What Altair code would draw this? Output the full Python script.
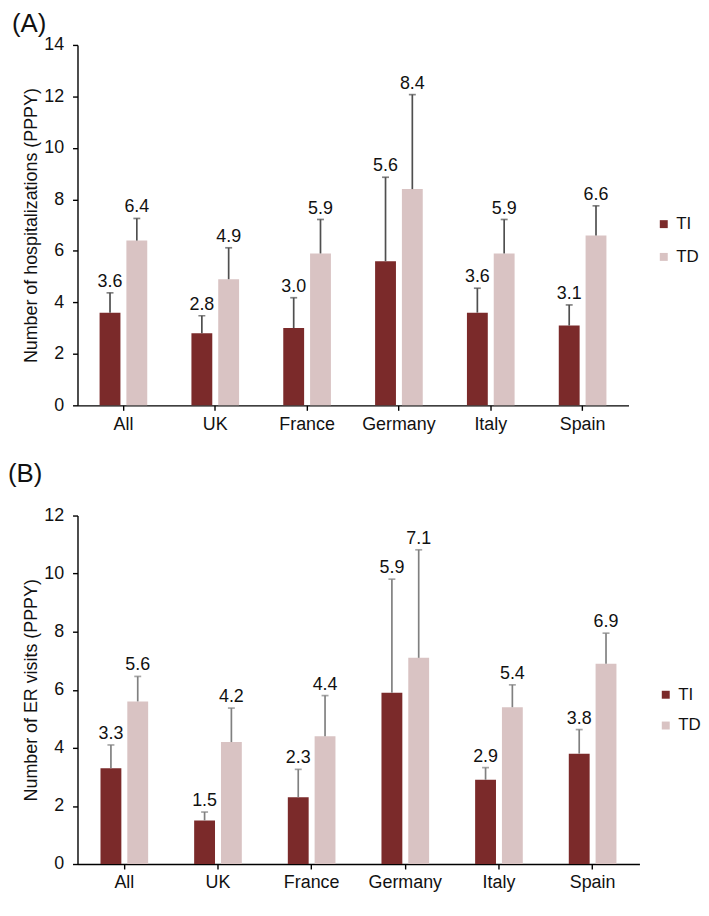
import altair as alt
import pandas as pd

categories = ["All", "UK", "France", "Germany", "Italy", "Spain"]
series = ["TI", "TD"]
colors = ["#7B2A2A", "#D9C3C3"]

# Panel A: hospitalizations (PPPY)
hosp_ti = [3.6, 2.8, 3.0, 5.6, 3.6, 3.1]
hosp_td = [6.4, 4.9, 5.9, 8.4, 5.9, 6.6]
hosp_ti_upper = [4.37, 3.48, 4.18, 8.86, 4.55, 3.90]
hosp_td_upper = [7.26, 6.12, 7.22, 12.07, 7.22, 7.75]

# Panel B: ER visits (PPPY)
er_ti = [3.3, 1.5, 2.3, 5.9, 2.9, 3.8]
er_td = [5.6, 4.2, 4.4, 7.1, 5.4, 6.9]
er_ti_upper = [4.10, 1.79, 3.26, 9.81, 3.32, 4.63]
er_td_upper = [6.46, 5.37, 5.80, 10.82, 6.17, 7.95]

FONT = "Liberation Sans"
TXT = "#111111"


def make_df(ti, td, ti_up, td_up):
    rows = []
    for i, c in enumerate(categories):
        rows.append({"cat": c, "series": "TI", "value": ti[i], "upper": ti_up[i], "label": f"{ti[i]:.1f}"})
        rows.append({"cat": c, "series": "TD", "value": td[i], "upper": td_up[i], "label": f"{td[i]:.1f}"})
    return pd.DataFrame(rows)


def panel(df, letter, ytitle, ymax, width, height, err_color, legend_x, legend_y,
          letter_x, letter_y, row_pad, xlab_pad):
    step = width / len(categories)
    p_in = 1 - 48 / step
    x = alt.X("cat:N", sort=categories,
              scale=alt.Scale(paddingInner=p_in, paddingOuter=p_in / 2),
              axis=alt.Axis(title=None, labelAngle=0, labelFont=FONT, labelFontSize=18,
                            labelColor=TXT, labelPadding=xlab_pad, tickSize=5, tickColor="#000",
                            domainColor="#000", domainWidth=1.4, tickWidth=1.4))
    xo = alt.XOffset("series:N", sort=series,
                     scale=alt.Scale(domain=series, paddingInner=0.222, paddingOuter=0))
    y = alt.Y("value:Q", scale=alt.Scale(domain=[0, ymax], nice=False),
              axis=alt.Axis(values=list(range(0, ymax + 1, 2)), title=ytitle, grid=False,
                            labelFont=FONT, labelFontSize=18, labelColor=TXT, labelPadding=9,
                            tickSize=5, tickColor="#000", tickWidth=1.4, domainColor="#000",
                            domainWidth=1.4, titleFont=FONT, titleFontSize=18,
                            titleFontWeight="normal", titleColor=TXT, titlePadding=3))
    base = alt.Chart(df)
    bars = base.mark_bar().encode(
        x=x, xOffset=xo, y=y,
        color=alt.Color("series:N", sort=series,
                        scale=alt.Scale(domain=series, range=colors),
                        legend=alt.Legend(title=None, orient="none", legendX=legend_x,
                                          legendY=legend_y, symbolType="square",
                                          symbolSize=64, symbolStrokeWidth=0,
                                          labelFont=FONT, labelFontSize=17,
                                          labelColor=TXT, rowPadding=row_pad,
                                          labelOffset=4, padding=0)),
    )
    rules = base.mark_rule(color=err_color, strokeWidth=1.7).encode(
        x=x, xOffset=xo, y="value:Q", y2="upper:Q")
    caps = base.mark_tick(orient="horizontal", color=err_color, size=7, thickness=1.7).encode(
        x=x, xOffset=xo, y="upper:Q")
    labels = base.mark_text(baseline="alphabetic", dy=-6, fontSize=18, font=FONT, color=TXT).encode(
        x=x, xOffset=xo, y="upper:Q", text="label:N")
    letter_txt = alt.Chart(pd.DataFrame({"t": [letter]})).mark_text(
        align="left", baseline="top", fontSize=26, font=FONT, color=TXT
    ).encode(x=alt.value(letter_x), y=alt.value(letter_y), text="t:N")
    return alt.layer(bars, rules, caps, labels, letter_txt).properties(width=width, height=height)


df_a = make_df(hosp_ti, hosp_td, hosp_ti_upper, hosp_td_upper)
df_b = make_df(er_ti, er_td, er_ti_upper, er_td_upper)

chart_a = panel(df_a, "(A)", "Number of hospitalizations (PPPY)", 14, 555, 363,
                "#4F4F4F", 582, 172, -66, -34, 15, 5)
chart_b = panel(df_b, "(B)", "Number of ER visits (PPPY)", 12, 566, 351,
                "#808080", 584, 172, -70, -55, 13, 5)

chart = alt.vconcat(chart_a, chart_b, spacing=111, bounds="flush").resolve_scale(
    x="independent", y="independent", xOffset="independent"
).resolve_legend(color="independent").properties(
    padding=0, background="white"
).configure_view(stroke=None)

chart.save("out.html", embed_options={"renderer": "svg", "actions": False})
